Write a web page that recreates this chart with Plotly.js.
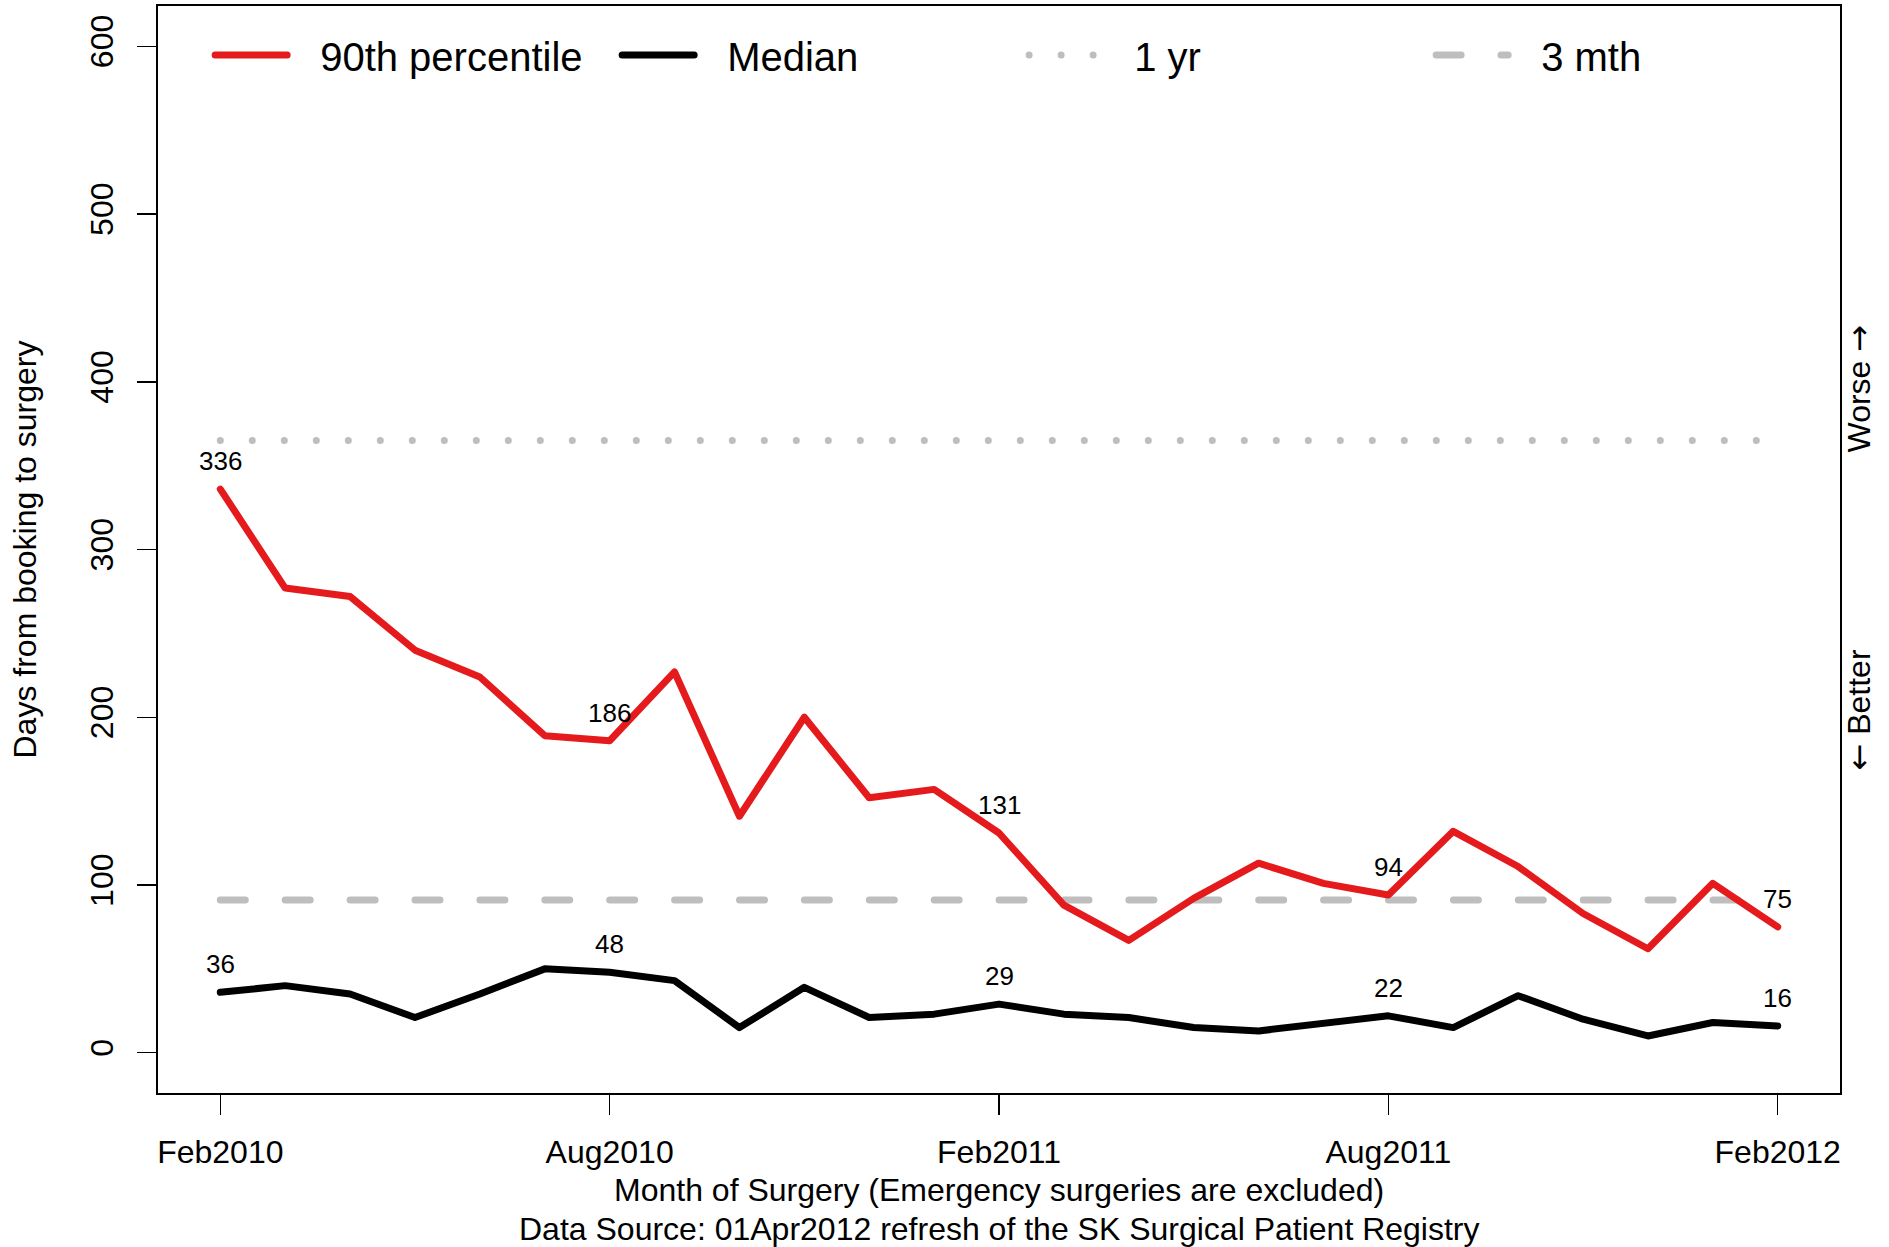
<!DOCTYPE html>
<html>
<head>
<meta charset="utf-8">
<script src="https://cdn.plot.ly/plotly-3.0.1.min.js"></script>
<style>
  body { margin: 0; background: #fff; }
  /* round caps so the grey dots/dashes look like the R output */
  .js-line { stroke-linecap: round; stroke-linejoin: round; }
</style>
</head>
<body>
<div id="plotArea" style="width:1889px;height:1247px;"></div>
<script>
// months of surgery
let months = ["Feb2010", "Mar2010", "Apr2010", "May2010", "Jun2010", "Jul2010", "Aug2010",
              "Sep2010", "Oct2010", "Nov2010", "Dec2010", "Jan2011", "Feb2011", "Mar2011",
              "Apr2011", "May2011", "Jun2011", "Jul2011", "Aug2011", "Sep2011", "Oct2011",
              "Nov2011", "Dec2011", "Jan2012", "Feb2012"];

// days from booking to surgery
let p90 = [336, 277, 272, 240, 224, 189, 186, 227, 141, 200, 152, 157, 131,
           88, 67, 92, 113, 101, 94, 132, 111, 83, 62, 101, 75];
let median = [36, 40, 35, 21, 35, 50, 48, 43, 15, 39, 21, 23, 29,
              23, 21, 15, 13, 18, 22, 15, 34, 20, 10, 18, 16];

// targets
let oneYear = 365;
let threeMonth = 91;

// months that get a value label
let labelMonths = ["Feb2010", "Aug2010", "Feb2011", "Aug2011", "Feb2012"];
let tickMonths = ["Feb2010", "Aug2010", "Feb2011", "Aug2011", "Feb2012"];
let yTicks = [0, 100, 200, 300, 400, 500, 600];

let fontFam = "Liberation Sans, Arial, Helvetica, sans-serif";
let red = "#E41A1C";
let grey = "#BEBEBE";
let gap = "\u2002\u2009";   // space between legend line and text
let arrow = s => "<span style='font-family:DejaVu Sans'>" + s + "</span>";

let yrTrace = {
  x: months, y: months.map(() => oneYear),
  mode: "lines", type: "scatter", name: gap + "1 yr", legendrank: 3,
  line: {color: grey, width: 7, dash: "0px,32px"}
};
let mthTrace = {
  x: months, y: months.map(() => threeMonth),
  mode: "lines", type: "scatter", name: gap + "3 mth", legendrank: 4,
  line: {color: grey, width: 7, dash: "25px,39.9px"}
};
let p90Trace = {
  x: months, y: p90,
  mode: "lines", type: "scatter", name: gap + "90th percentile", legendrank: 1,
  line: {color: red, width: 7}
};
let medTrace = {
  x: months, y: median,
  mode: "lines", type: "scatter", name: gap + "Median", legendrank: 2,
  line: {color: "black", width: 7}
};

let anns = [];
[p90, median].forEach(function(series) {
  labelMonths.forEach(function(m) {
    let i = months.indexOf(m);
    anns.push({x: m, y: series[i], xref: "x", yref: "y", text: String(series[i]),
               showarrow: false, yshift: 28, font: {family: fontFam, size: 26, color: "black"}});
  });
});

// axis titles and side notes
let txt = {family: fontFam, size: 32, color: "black"};
anns.push({xref: "paper", yref: "paper", x: 0.5, y: 0, yanchor: "middle", yshift: -97,
           text: "Month of Surgery (Emergency surgeries are excluded)", showarrow: false, font: txt});
anns.push({xref: "paper", yref: "paper", x: 0.5, y: 0, yanchor: "middle", yshift: -136,
           text: "Data Source: 01Apr2012 refresh of the SK Surgical Patient Registry", showarrow: false, font: txt});
anns.push({xref: "paper", yref: "paper", x: 0, y: 0.5, xanchor: "center", xshift: -134, textangle: -90,
           text: "Days from booking to surgery", showarrow: false, font: txt});
anns.push({xref: "paper", yref: "y", x: 1, y: 396, xanchor: "center", xshift: 19, textangle: -90,
           text: "Worse " + arrow("\u2192"), showarrow: false, font: txt});
anns.push({xref: "paper", yref: "y", x: 1, y: 204, xanchor: "center", xshift: 19, textangle: -90,
           text: arrow("\u2190") + " Better", showarrow: false, font: txt});

let layout = {
  width: 1889, height: 1247,
  margin: {l: 158, r: 49, t: 6, b: 154},
  paper_bgcolor: "white", plot_bgcolor: "white",
  font: {family: fontFam, color: "black"},
  showlegend: true,
  legend: {
    orientation: "h", x: 0.031, y: 0.955, xanchor: "left", yanchor: "middle",
    font: {family: fontFam, size: 40, color: "black"},
    bgcolor: "rgba(0,0,0,0)", itemwidth: 72, entrywidth: 320, entrywidthmode: "pixels",
    traceorder: "normal"
  },
  xaxis: {
    type: "category", range: [-0.96, 24.96],
    tickvals: tickMonths, ticktext: tickMonths,
    ticks: "outside", ticklen: 20, tickwidth: 1.5, tickcolor: "black",
    tickfont: {family: fontFam, size: 32, color: "black"},
    showline: true, linecolor: "black", linewidth: 2, mirror: true,
    showgrid: false, zeroline: false, ticklabelstandoff: 10
  },
  yaxis: {
    range: [-24, 624], tickvals: yTicks, tickangle: -90,
    ticks: "outside", ticklen: 19, tickwidth: 1.5, tickcolor: "black",
    tickfont: {family: fontFam, size: 32, color: "black"},
    showline: true, linecolor: "black", linewidth: 2, mirror: true,
    showgrid: false, zeroline: false, ticklabelstandoff: 11
  },
  annotations: anns
};

Plotly.newPlot("plotArea", [yrTrace, mthTrace, p90Trace, medTrace], layout, {displayModeBar: false, staticPlot: true});
</script>
</body>
</html>
